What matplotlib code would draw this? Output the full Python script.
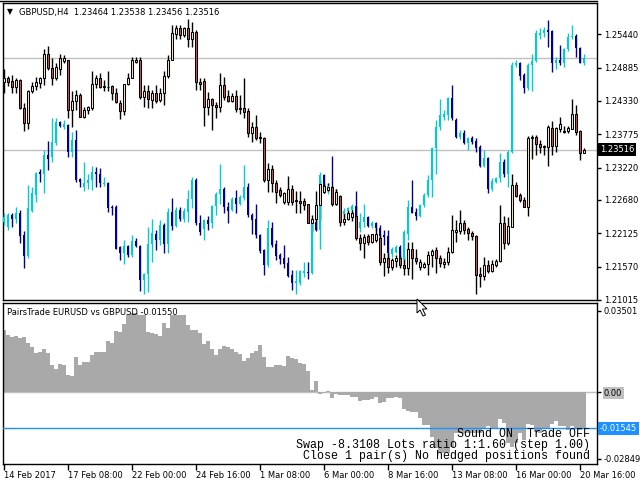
import matplotlib

matplotlib.use("Agg")
import matplotlib.pyplot as plt
from matplotlib.lines import Line2D
from matplotlib.patches import Polygon
import numpy as np

# GBPUSD H4 bars, 14 Feb 2017 16:00 .. 20 Mar 2017
gbp_open = [1.2464, 1.2472, 1.2467, 1.2456, 1.2468, 1.2422, 1.2396, 1.2450, 1.2458, 1.2463,
            1.2471, 1.2512, 1.2488, 1.2471, 1.2487, 1.2500, 1.2501, 1.2418, 1.2433, 1.2443,
            1.2407, 1.2418, 1.2422, 1.2462, 1.2471, 1.2458, 1.2457, 1.2458, 1.2447, 1.2430,
            1.2416, 1.2461, 1.2472, 1.2498, 1.2502, 1.2440, 1.2450, 1.2435, 1.2446, 1.2435,
            1.2447, 1.2475, 1.2502, 1.2544, 1.2554, 1.2543, 1.2554, 1.2537, 1.2548, 1.2465,
            1.2467, 1.2423, 1.2436, 1.2427, 1.2423, 1.2460, 1.2441, 1.2433, 1.2441, 1.2421,
            1.2421, 1.2416, 1.2379, 1.2390, 1.2373, 1.2372, 1.2301, 1.2319, 1.2297, 1.2285,
            1.2265, 1.2265, 1.2286, 1.2266, 1.2266, 1.2266, 1.2261, 1.2230, 1.2237, 1.2259,
            1.2282, 1.2285, 1.2289, 1.2262, 1.2275, 1.2232, 1.2236, 1.2240, 1.2241, 1.2205,
            1.2196, 1.2208, 1.2198, 1.2202, 1.2204, 1.2165, 1.2172, 1.2156, 1.2167, 1.2171,
            1.2159, 1.2154, 1.2186, 1.2172, 1.2157, 1.2157, 1.2161, 1.2176, 1.2184, 1.2171,
            1.2161, 1.2165, 1.2182, 1.2215, 1.2216, 1.2229, 1.2219, 1.2213, 1.2208, 1.2145,
            1.2142, 1.2159, 1.2150, 1.2159, 1.2166, 1.2229, 1.2196, 1.2223, 1.2293, 1.2276,
            1.2268, 1.2257, 1.2371, 1.2373, 1.2362, 1.2358, 1.2357, 1.2388, 1.2358, 1.2387,
            1.2383, 1.2383, 1.2387, 1.2411, 1.2383, 1.23464]
gbp_high = [1.2487, 1.2475, 1.2476, 1.2472, 1.2470, 1.2429, 1.2452, 1.2465, 1.2473, 1.2473,
            1.2519, 1.2525, 1.2505, 1.2496, 1.2512, 1.2510, 1.2502, 1.2450, 1.2451, 1.2446,
            1.2423, 1.2425, 1.2483, 1.2476, 1.2480, 1.2468, 1.2483, 1.2460, 1.2454, 1.2435,
            1.2462, 1.2480, 1.2507, 1.2507, 1.2506, 1.2460, 1.2460, 1.2451, 1.2460, 1.2454,
            1.2483, 1.2510, 1.2560, 1.2560, 1.2560, 1.2557, 1.2569, 1.2565, 1.2551, 1.2471,
            1.2471, 1.2448, 1.2438, 1.2432, 1.2479, 1.2473, 1.2451, 1.2446, 1.2451, 1.2443,
            1.2471, 1.2421, 1.2398, 1.2410, 1.2382, 1.2373, 1.2329, 1.2326, 1.2301, 1.2290,
            1.2282, 1.2308, 1.2293, 1.2283, 1.2283, 1.2271, 1.2262, 1.2243, 1.2283, 1.2301,
            1.2297, 1.2297, 1.2291, 1.2287, 1.2277, 1.2246, 1.2251, 1.2251, 1.2258, 1.2212,
            1.2212, 1.2212, 1.2212, 1.2221, 1.2210, 1.2179, 1.2179, 1.2172, 1.2176, 1.2176,
            1.2173, 1.2198, 1.2198, 1.2187, 1.2169, 1.2165, 1.2183, 1.2186, 1.2190, 1.2176,
            1.2171, 1.2190, 1.2243, 1.2234, 1.2252, 1.2234, 1.2223, 1.2216, 1.2210, 1.2157,
            1.2173, 1.2168, 1.2168, 1.2169, 1.2259, 1.2241, 1.2240, 1.2312, 1.2298, 1.2280,
            1.2273, 1.2374, 1.2376, 1.2376, 1.2368, 1.2360, 1.2393, 1.2400, 1.2390, 1.2407,
            1.2391, 1.2391, 1.2437, 1.2426, 1.2385, 1.23538]
gbp_low = [1.2446, 1.2458, 1.2446, 1.2446, 1.2419, 1.2383, 1.2386, 1.2446, 1.2451, 1.2454,
           1.2460, 1.2485, 1.2460, 1.2468, 1.2476, 1.2496, 1.2404, 1.2390, 1.2418, 1.2406,
           1.2404, 1.2412, 1.2418, 1.2454, 1.2454, 1.2450, 1.2450, 1.2435, 1.2429, 1.2403,
           1.2410, 1.2460, 1.2471, 1.2496, 1.2437, 1.2423, 1.2422, 1.2421, 1.2429, 1.2432,
           1.2427, 1.2471, 1.2501, 1.2537, 1.2537, 1.2540, 1.2523, 1.2523, 1.2451, 1.2451,
           1.2391, 1.2410, 1.2385, 1.2404, 1.2415, 1.2435, 1.2432, 1.2432, 1.2415, 1.2412,
           1.2404, 1.2373, 1.2365, 1.2368, 1.2363, 1.2298, 1.2282, 1.2282, 1.2263, 1.2273,
           1.2262, 1.2259, 1.2259, 1.2246, 1.2247, 1.2251, 1.2229, 1.2215, 1.2218, 1.2234,
           1.2279, 1.2283, 1.2258, 1.2259, 1.2224, 1.2226, 1.2234, 1.2233, 1.2201, 1.2184,
           1.2171, 1.2193, 1.2196, 1.2198, 1.2159, 1.2141, 1.2146, 1.2151, 1.2157, 1.2154,
           1.2143, 1.2143, 1.2136, 1.2161, 1.2151, 1.2154, 1.2143, 1.2157, 1.2146, 1.2157,
           1.2154, 1.2159, 1.2179, 1.2198, 1.2212, 1.2212, 1.2201, 1.2201, 1.2112, 1.2123,
           1.2134, 1.2146, 1.2148, 1.2157, 1.2165, 1.2187, 1.2193, 1.2223, 1.2273, 1.2265,
           1.2256, 1.2241, 1.2337, 1.2343, 1.2347, 1.2343, 1.2325, 1.2343, 1.2348, 1.2382,
           1.2379, 1.2380, 1.2386, 1.2376, 1.2335, 1.23456]
gbp_close = [1.2471, 1.2464, 1.2456, 1.2468, 1.2421, 1.2396, 1.2450, 1.2458, 1.2465, 1.2471,
             1.2512, 1.2488, 1.2472, 1.2490, 1.2504, 1.2504, 1.2418, 1.2433, 1.2443, 1.2407,
             1.2418, 1.2423, 1.2462, 1.2471, 1.2456, 1.2457, 1.2456, 1.2447, 1.2432, 1.2416,
             1.2461, 1.2472, 1.2501, 1.2502, 1.2440, 1.2450, 1.2436, 1.2447, 1.2433, 1.2447,
             1.2475, 1.2502, 1.2546, 1.2554, 1.2543, 1.2554, 1.2537, 1.2548, 1.2465, 1.2461,
             1.2423, 1.2436, 1.2426, 1.2423, 1.2460, 1.2440, 1.2433, 1.2441, 1.2419, 1.2419,
             1.2415, 1.2379, 1.2390, 1.2372, 1.2371, 1.2301, 1.2319, 1.2296, 1.2282, 1.2276,
             1.2280, 1.2286, 1.2265, 1.2268, 1.2263, 1.2259, 1.2230, 1.2237, 1.2259, 1.2294,
             1.2291, 1.2290, 1.2262, 1.2282, 1.2232, 1.2237, 1.2247, 1.2247, 1.2204, 1.2196,
             1.2207, 1.2198, 1.2211, 1.2211, 1.2165, 1.2172, 1.2156, 1.2168, 1.2172, 1.2159,
             1.2154, 1.2186, 1.2172, 1.2167, 1.2165, 1.2161, 1.2176, 1.2183, 1.2171, 1.2163,
             1.2165, 1.2182, 1.2218, 1.2218, 1.2229, 1.2218, 1.2213, 1.2208, 1.2143, 1.2142,
             1.2159, 1.2150, 1.2161, 1.2166, 1.2229, 1.2196, 1.2225, 1.2293, 1.2274, 1.2268,
             1.2257, 1.2372, 1.2373, 1.2361, 1.2357, 1.2357, 1.2390, 1.2358, 1.2388, 1.2394,
             1.2381, 1.2388, 1.2411, 1.2382, 1.2347, 1.23516]

# EURUSD bars as overlaid on the GBPUSD price scale
eur_open = [1.2232, 1.2223, 1.2243, 1.2237, 1.2246, 1.2209, 1.2175, 1.2250, 1.2276, 1.2315,
            1.2312, 1.2343, 1.2340, 1.2363, 1.2398, 1.2390, 1.2393, 1.2348, 1.2368, 1.2303,
            1.2289, 1.2296, 1.2302, 1.2315, 1.2312, 1.2295, 1.2297, 1.2257, 1.2257, 1.2190,
            1.2180, 1.2191, 1.2176, 1.2200, 1.2192, 1.2134, 1.2145, 1.2194, 1.2212, 1.2202,
            1.2226, 1.2195, 1.2248, 1.2224, 1.2251, 1.2237, 1.2248, 1.2269, 1.2302, 1.2230,
            1.2219, 1.2234, 1.2229, 1.2258, 1.2278, 1.2287, 1.2257, 1.2252, 1.2271, 1.2261,
            1.2272, 1.2290, 1.2243, 1.2236, 1.2209, 1.2184, 1.2159, 1.2222, 1.2194, 1.2176,
            1.2171, 1.2163, 1.2143, 1.2129, 1.2129, 1.2146, 1.2148, 1.2146, 1.2232, 1.2218,
            1.2309, 1.2286, 1.2290, 1.2276, 1.2261, 1.2245, 1.2250, 1.2252, 1.2258, 1.2221,
            1.2232, 1.2240, 1.2224, 1.2230, 1.2221, 1.2209, 1.2208, 1.2178, 1.2182, 1.2190,
            1.2168, 1.2212, 1.2257, 1.2248, 1.2241, 1.2259, 1.2276, 1.2302, 1.2354, 1.2390,
            1.2407, 1.2410, 1.2438, 1.2402, 1.2373, 1.2380, 1.2363, 1.2371, 1.2366, 1.2357,
            1.2325, 1.2338, 1.2286, 1.2298, 1.2304, 1.2332, 1.2312, 1.2348, 1.2493, 1.2497,
            1.2476, 1.2454, 1.2493, 1.2500, 1.2543, 1.2546, 1.2552, 1.2549, 1.2496, 1.2502,
            1.2497, 1.2519, 1.2539, 1.2541, 1.2521, 1.2497]
eur_high = [1.2246, 1.2247, 1.2246, 1.2256, 1.2251, 1.2216, 1.2293, 1.2290, 1.2315, 1.2319,
            1.2351, 1.2367, 1.2404, 1.2404, 1.2400, 1.2401, 1.2394, 1.2382, 1.2385, 1.2304,
            1.2331, 1.2312, 1.2325, 1.2323, 1.2322, 1.2306, 1.2298, 1.2259, 1.2259, 1.2191,
            1.2202, 1.2193, 1.2210, 1.2204, 1.2193, 1.2147, 1.2223, 1.2237, 1.2218, 1.2234,
            1.2229, 1.2254, 1.2271, 1.2257, 1.2256, 1.2254, 1.2285, 1.2307, 1.2304, 1.2243,
            1.2237, 1.2241, 1.2259, 1.2282, 1.2328, 1.2290, 1.2265, 1.2273, 1.2285, 1.2276,
            1.2326, 1.2297, 1.2246, 1.2261, 1.2212, 1.2187, 1.2234, 1.2231, 1.2202, 1.2179,
            1.2193, 1.2173, 1.2151, 1.2151, 1.2152, 1.2165, 1.2165, 1.2234, 1.2246, 1.2315,
            1.2312, 1.2297, 1.2341, 1.2287, 1.2265, 1.2254, 1.2257, 1.2261, 1.2283, 1.2246,
            1.2261, 1.2241, 1.2233, 1.2232, 1.2226, 1.2218, 1.2218, 1.2190, 1.2193, 1.2193,
            1.2218, 1.2268, 1.2302, 1.2254, 1.2261, 1.2279, 1.2309, 1.2357, 1.2401, 1.2436,
            1.2418, 1.2440, 1.2460, 1.2404, 1.2384, 1.2384, 1.2373, 1.2374, 1.2372, 1.2360,
            1.2352, 1.2340, 1.2304, 1.2307, 1.2346, 1.2337, 1.2351, 1.2498, 1.2501, 1.2498,
            1.2479, 1.2496, 1.2512, 1.2551, 1.2554, 1.2557, 1.2568, 1.2551, 1.2506, 1.2526,
            1.2522, 1.2546, 1.2560, 1.2544, 1.2523, 1.2512]
eur_low = [1.2226, 1.2218, 1.2223, 1.2229, 1.2197, 1.2154, 1.2171, 1.2248, 1.2265, 1.2298,
           1.2279, 1.2318, 1.2332, 1.2360, 1.2390, 1.2387, 1.2340, 1.2340, 1.2298, 1.2289,
           1.2283, 1.2287, 1.2285, 1.2290, 1.2290, 1.2291, 1.2248, 1.2243, 1.2186, 1.2168,
           1.2162, 1.2173, 1.2173, 1.2190, 1.2117, 1.2111, 1.2115, 1.2165, 1.2184, 1.2193,
           1.2180, 1.2180, 1.2218, 1.2223, 1.2233, 1.2232, 1.2232, 1.2254, 1.2226, 1.2209,
           1.2202, 1.2218, 1.2221, 1.2243, 1.2261, 1.2246, 1.2230, 1.2250, 1.2246, 1.2259,
           1.2268, 1.2240, 1.2212, 1.2204, 1.2180, 1.2143, 1.2157, 1.2190, 1.2168, 1.2162,
           1.2154, 1.2140, 1.2118, 1.2112, 1.2126, 1.2140, 1.2137, 1.2145, 1.2217, 1.2187,
           1.2279, 1.2278, 1.2273, 1.2259, 1.2240, 1.2240, 1.2246, 1.2240, 1.2218, 1.2215,
           1.2223, 1.2223, 1.2221, 1.2218, 1.2201, 1.2193, 1.2168, 1.2173, 1.2179, 1.2162,
           1.2162, 1.2201, 1.2246, 1.2234, 1.2240, 1.2257, 1.2273, 1.2273, 1.2312, 1.2385,
           1.2402, 1.2401, 1.2401, 1.2371, 1.2369, 1.2362, 1.2351, 1.2362, 1.2348, 1.2323,
           1.2323, 1.2279, 1.2283, 1.2297, 1.2298, 1.2307, 1.2290, 1.2346, 1.2490, 1.2468,
           1.2447, 1.2451, 1.2450, 1.2498, 1.2537, 1.2540, 1.2523, 1.2482, 1.2487, 1.2493,
           1.2490, 1.2517, 1.2537, 1.2507, 1.2496, 1.2493]
eur_close = [1.2240, 1.2243, 1.2237, 1.2246, 1.2208, 1.2175, 1.2254, 1.2279, 1.2313, 1.2311,
             1.2343, 1.2337, 1.2365, 1.2398, 1.2391, 1.2395, 1.2348, 1.2368, 1.2301, 1.2298,
             1.2296, 1.2302, 1.2315, 1.2311, 1.2296, 1.2297, 1.2255, 1.2255, 1.2187, 1.2180,
             1.2191, 1.2176, 1.2200, 1.2192, 1.2134, 1.2145, 1.2194, 1.2213, 1.2201, 1.2226,
             1.2195, 1.2248, 1.2224, 1.2251, 1.2237, 1.2250, 1.2269, 1.2302, 1.2229, 1.2215,
             1.2234, 1.2228, 1.2258, 1.2278, 1.2287, 1.2257, 1.2250, 1.2269, 1.2261, 1.2273,
             1.2290, 1.2243, 1.2234, 1.2209, 1.2183, 1.2159, 1.2222, 1.2193, 1.2175, 1.2169,
             1.2162, 1.2141, 1.2130, 1.2133, 1.2150, 1.2150, 1.2146, 1.2232, 1.2218, 1.2309,
             1.2290, 1.2291, 1.2276, 1.2261, 1.2246, 1.2250, 1.2254, 1.2258, 1.2221, 1.2232,
             1.2240, 1.2224, 1.2230, 1.2221, 1.2208, 1.2206, 1.2179, 1.2186, 1.2190, 1.2165,
             1.2215, 1.2257, 1.2247, 1.2241, 1.2259, 1.2276, 1.2302, 1.2354, 1.2390, 1.2410,
             1.2412, 1.2438, 1.2404, 1.2373, 1.2380, 1.2363, 1.2371, 1.2365, 1.2354, 1.2325,
             1.2338, 1.2286, 1.2300, 1.2304, 1.2332, 1.2312, 1.2348, 1.2493, 1.2497, 1.2474,
             1.2454, 1.2493, 1.2500, 1.2546, 1.2546, 1.2552, 1.2548, 1.2496, 1.2502, 1.2497,
             1.2519, 1.2540, 1.2541, 1.2521, 1.2497, 1.2505]

# PairsTrade spread histogram
spread = [0.0267, 0.0246, 0.0239, 0.0242, 0.0232, 0.0236, 0.0213, 0.0193, 0.0167, 0.0174,
          0.0186, 0.0167, 0.0117, 0.0100, 0.0122, 0.0117, 0.0074, 0.0070, 0.0150, 0.0117,
          0.0129, 0.0129, 0.0160, 0.0172, 0.0172, 0.0172, 0.0220, 0.0210, 0.0263, 0.0260,
          0.0293, 0.0332, 0.0339, 0.0339, 0.0332, 0.0332, 0.0260, 0.0253, 0.0249, 0.0242,
          0.0299, 0.0275, 0.0332, 0.0332, 0.0332, 0.0332, 0.0289, 0.0265, 0.0265, 0.0253,
          0.0207, 0.0222, 0.0184, 0.0160, 0.0184, 0.0199, 0.0193, 0.0184, 0.0172, 0.0164,
          0.0134, 0.0146, 0.0167, 0.0179, 0.0203, 0.0153, 0.0107, 0.0107, 0.0117, 0.0117,
          0.0114, 0.0156, 0.0146, 0.0142, 0.0124, 0.0122, 0.0093, 0.0010, 0.0049, -0.0007,
          -0.0004, 0.0007, -0.0023, -0.0009, -0.0011, -0.0011, -0.0014, -0.0019, -0.0019, -0.0037,
          -0.0033, -0.0033, -0.0030, -0.0019, -0.0047, -0.0040, -0.0026, -0.0023, -0.0021, -0.0023,
          -0.0073, -0.0079, -0.0083, -0.0083, -0.0112, -0.0140, -0.0140, -0.0190, -0.0240, -0.0259,
          -0.0262, -0.0259, -0.0233, -0.0176, -0.0176, -0.0176, -0.0176, -0.0176, -0.0176, -0.0176,
          -0.0152, -0.0147, -0.0152, -0.0152, -0.0114, -0.0130, -0.0219, -0.0233, -0.0216, -0.0176,
          -0.0204, -0.0137, -0.0140, -0.0169, -0.0176, -0.0154, -0.0154, -0.0137, -0.0122, -0.0147,
          -0.0144, -0.0162, -0.0144, -0.0154, -0.0162, -0.0155]

price_levels = [1.25440, 1.24885, 1.24330, 1.23775, 1.23220, 1.22680, 1.22125, 1.21570, 1.21015]
spread_levels = [0.03501, 0.0, -0.02849]
spread_labels = ["0.03501", "0.00", "-0.02849"]
signal_level = -0.01545
date_ticks = [0, 16, 32, 48, 64, 80, 96, 112, 128, 144]
date_labels = ["14 Feb 2017", "17 Feb 08:00", "22 Feb 00:00", "24 Feb 16:00", "1 Mar 08:00",
               "6 Mar 00:00", "8 Mar 16:00", "13 Mar 08:00", "16 Mar 00:00", "20 Mar 16:00"]
status_lines = ["Sound ON  Trade OFF",
                "Swap -8.3108 Lots ratio 1:1.60 (step 1.00)",
                "Close 1 pair(s) No hedged positions found"]

W, H = 640, 480
BEIGE, RED = "#f7e7cc", "#c8534d"
CYAN, NAVY = "#00cdd2", "#00009a"
SILVER, BLUE, HIST = "#c0c0c0", "#1e90ff", "#a9a9a9"
FS = 6

plt.rcParams["font.family"] = "DejaVu Sans"


def rect(x0, y0, x1, y1):
    return [x0 / W, 1 - y1 / H, (x1 - x0) / W, (y1 - y0) / H]


def candles(ax, o, h, l, c, up, down, wick=None, edge=None, width=0.55, min_h=0.0):
    o, h, l, c = (np.asarray(v) for v in (o, h, l, c))
    x = np.arange(len(o))
    cols = np.where(c >= o, up, down)
    ax.vlines(x, l, h, colors=wick if wick else list(cols), lw=1, zorder=3)
    height = np.maximum(np.abs(c - o), min_h)
    ax.bar(x, height, bottom=np.minimum(o, c), width=width, color=list(cols),
           edgecolor=edge if edge else list(cols), linewidth=0.75 if edge else 0, zorder=4)


fig = plt.figure(figsize=(6.4, 4.8), dpi=100)
ax = fig.add_axes(rect(3, 3, 597, 300))
ax2 = fig.add_axes(rect(3, 303, 597, 464))

# main price window
ax.axhline(gbp_close[-1], color=SILVER, lw=1, zorder=1)
ax.axhline(eur_close[-1], color=SILVER, lw=1, zorder=1)
candles(ax, eur_open, eur_high, eur_low, eur_close, CYAN, NAVY, width=0.72, min_h=0.00015)
candles(ax, gbp_open, gbp_high, gbp_low, gbp_close, BEIGE, RED, wick="black", edge="black", width=0.5)
ax.set_xlim(-0.25, 148.25)
ax.set_ylim(1.21012, 1.25962)
ax.set_xticks([])
ax.yaxis.tick_right()
ax.set_yticks(price_levels, [f"{v:.5f}" for v in price_levels])
ax.tick_params(axis="y", direction="out", length=3, width=1, pad=2, labelsize=FS)
ax.annotate(f"{gbp_close[-1]:.5f}", xy=(1, gbp_close[-1]), xycoords=("axes fraction", "data"),
            xytext=(3, 0), textcoords="offset pixels", ha="left", va="center",
            color="white", fontsize=FS,
            bbox=dict(boxstyle="square,pad=0.25", fc="black", ec="none"))

# indicator window
x = np.arange(len(spread))
ax2.axhline(0, color=SILVER, lw=1, zorder=1)
ax2.bar(x, spread, width=1.0, color=HIST, linewidth=0, zorder=2)
ax2.axhline(signal_level, color=BLUE, lw=1, zorder=3)
ax2.set_xlim(-0.25, 148.25)
ax2.set_ylim(-0.0308, 0.0383)
ax2.yaxis.tick_right()
ax2.set_yticks(spread_levels, spread_labels)
ax2.tick_params(axis="y", direction="out", length=3, width=1, pad=2, labelsize=FS)
ax2.get_yticklabels()[1].set_bbox(dict(boxstyle="square,pad=0.15", fc=SILVER, ec="none"))
ax2.annotate(f"{signal_level:.5f}", xy=(1, signal_level), xycoords=("axes fraction", "data"),
             xytext=(3, 0), textcoords="offset pixels", ha="left", va="center",
             color="white", fontsize=FS,
             bbox=dict(boxstyle="square,pad=0.25", fc=BLUE, ec="none"))
ax2.set_xticks(date_ticks, date_labels)
ax2.tick_params(axis="x", direction="out", length=4, width=1, pad=1, labelsize=FS)
for lab in ax2.get_xticklabels():
    lab.set_horizontalalignment("left")

for a in (ax, ax2):
    for s in a.spines.values():
        s.set_color("black")
        s.set_linewidth(1)

fig.add_artist(Line2D([0, 597 / W], [1 - 1 / H, 1 - 1 / H], color="black", lw=1))

fig.text(7 / W, 1 - 12 / H, "\u25bc", fontsize=5.5, va="center")
fig.text(19 / W, 1 - 12 / H, "GBPUSD,H4  1.23464 1.23538 1.23456 1.23516",
         fontsize=FS, va="center")
fig.text(7 / W, 1 - 312.5 / H, "PairsTrade EURUSD vs GBPUSD -0.01550", fontsize=FS, va="center")
fig.text(590 / W, 1 - 445.3 / H, "\n".join(status_lines), ha="right", va="center",
         multialignment="right", linespacing=0.87, family="Liberation Mono", fontsize=8.4)

# mouse pointer left on the window separator
cursor = [(417, 299), (417, 313), (420, 310), (423, 316), (425.5, 315), (422.5, 309), (427, 309)]
fig.add_artist(Polygon([(px / W, 1 - py / H) for px, py in cursor], closed=True,
                       transform=fig.transFigure, facecolor="white", edgecolor="black",
                       linewidth=0.7, zorder=10))

fig.savefig("out.png", dpi=100, facecolor="white")
